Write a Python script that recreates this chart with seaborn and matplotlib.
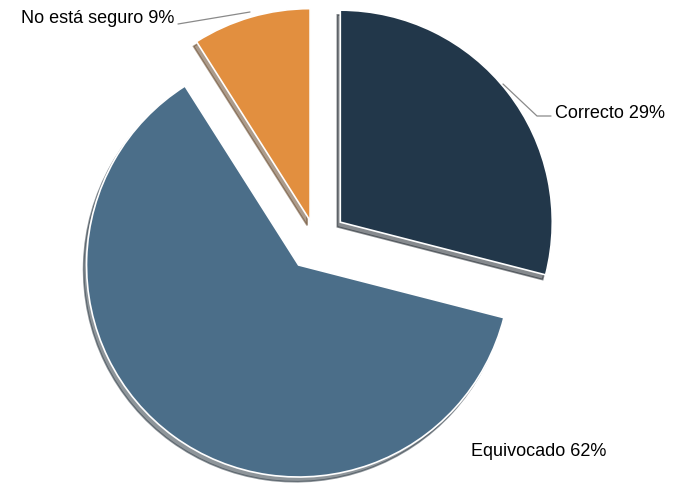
import matplotlib
matplotlib.use("Agg")
import matplotlib.pyplot as plt
import seaborn as sns

# datos
categorias = ["Correcto", "Equivocado", "No está seguro"]
porcentajes = [29, 62, 9]
colores = ["#22374a", "#4b6e89", "#e28f3f"]
separacion = [0.145, 0.14, 0.10]

sns.set_theme(style="white")
plt.rcParams["font.family"] = ["Liberation Sans", "DejaVu Sans"]

R_PX = 212.0  # radio en pixeles
CX, CY = 316.0, 241.0


def px(x, y):
    # pixel -> coordenadas de datos
    return (x - CX) / R_PX, (CY - y) / R_PX


fig = plt.figure(figsize=(6.77, 4.88), dpi=100)
ax = fig.add_axes([0, 0, 1, 1])

wedges, _ = ax.pie(
    porcentajes,
    colors=colores,
    explode=separacion,
    startangle=90,
    counterclock=False,
    radius=1.0,
    wedgeprops={"edgecolor": "white", "linewidth": 1.2},
    shadow={"ox": -0.01, "oy": -0.016, "shade": 0.6},
)

ax.set_xlim((0 - CX) / R_PX, (677 - CX) / R_PX)
ax.set_ylim((CY - 488) / R_PX, CY / R_PX)
ax.set_aspect("equal")
ax.axis("off")

# etiquetas
lbl = [f"{c} {p}%" for c, p in zip(categorias, porcentajes)]

# No está seguro
x0, y0 = px(178, 24)
x1, y1 = px(250, 12)
ax.plot([x0, x1], [y0, y1], color="#8a8a8a", lw=0.9)
tx, ty = px(174, 19)
ax.text(tx, ty, lbl[2], ha="right", va="center", fontsize=13, color="black")

# Correcto
xa, ya = px(503, 84)
xb, yb = px(537, 116)
xc, yc = px(551, 116)
ax.plot([xa, xb, xc], [ya, yb, yc], color="#8a8a8a", lw=0.9)
tx, ty = px(555, 114)
ax.text(tx, ty, lbl[0], ha="left", va="center", fontsize=13, color="black")

# Equivocado
tx, ty = px(471, 451)
ax.text(tx, ty, lbl[1], ha="left", va="center", fontsize=13, color="black")

fig.savefig("out.png", dpi=100, facecolor="white")
